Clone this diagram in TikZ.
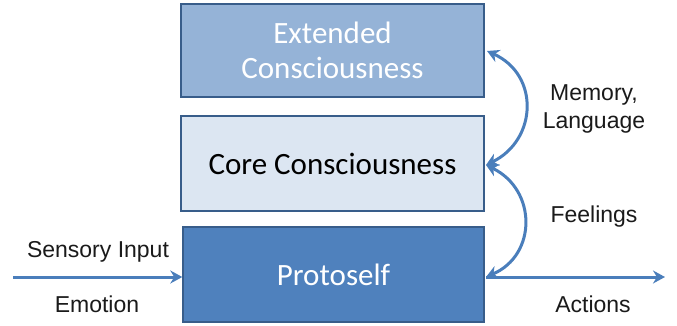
\documentclass[tikz,border=0pt]{standalone}
\usepackage{fontspec}
\setmainfont{Liberation Sans}
\newfontfamily\calfont{Carlito}
\usetikzlibrary{arrows.meta}
\definecolor{boxedge}{HTML}{385D8A}
\definecolor{extfill}{HTML}{95B3D7}
\definecolor{corefill}{HTML}{DCE6F2}
\definecolor{protofill}{HTML}{4F81BD}
\definecolor{arrowblue}{HTML}{4A7EBB}
\definecolor{labelgray}{HTML}{1A1A1A}
\tikzset{
  layerbox/.style={draw=boxedge, line width=1.4pt, inner sep=0pt, align=center,
    font=\calfont\fontsize{31}{36}\selectfont},
  flow/.style={draw=arrowblue, line width=3pt, -{Stealth[length=12pt,width=13pt]}},
  bflow/.style={draw=arrowblue, line width=3pt, {Stealth[length=12pt,width=13pt]}-{Stealth[length=12pt,width=13pt]}},
  lbl/.style={text=labelgray, font=\fontsize{23}{27}\selectfont, align=center, inner sep=0pt}
}
\begin{document}
\begin{tikzpicture}[x=1pt,y=-1pt]
\useasboundingbox (0,0) rectangle (677,326);
\node[layerbox, fill=extfill, text=white, minimum width=303pt, minimum height=93pt] (ext) at (332.5,50.5) {Extended\\[-1pt]Consciousness};
\node[layerbox, fill=corefill, text=black, minimum width=303pt, minimum height=95pt] (core) at (332.5,163.5) {Core Consciousness};
\node[layerbox, fill=protofill, text=white, minimum width=301pt, minimum height=95pt] (proto) at (333.5,274.5) {Protoself};

\coordinate (inL) at (13,277);
\coordinate (outR) at (665,277);
\coordinate (pR) at (486,277);
\coordinate (cR) at (486,165);
\coordinate (eR) at (487,51);

\draw[flow] (inL) -- (inL -| proto.west);
\draw[flow] (pR) -- (outR);
\draw[bflow] (pR) .. controls (537,255) and (537,190) .. (cR);
\draw[bflow] (cR) .. controls (537,140) and (540,75) .. (eR);

\node[lbl] (mem) at (594,109) {Memory,\\[1pt]Language};
\node[lbl] (feel) at (594,217) {Feelings};
\node[lbl] (act) at (593,304) {Actions};
\node[lbl] (sens) at (98,252) {Sensory Input};
\node[lbl] (emo) at (97,304) {Emotion};
\end{tikzpicture}
\end{document}
